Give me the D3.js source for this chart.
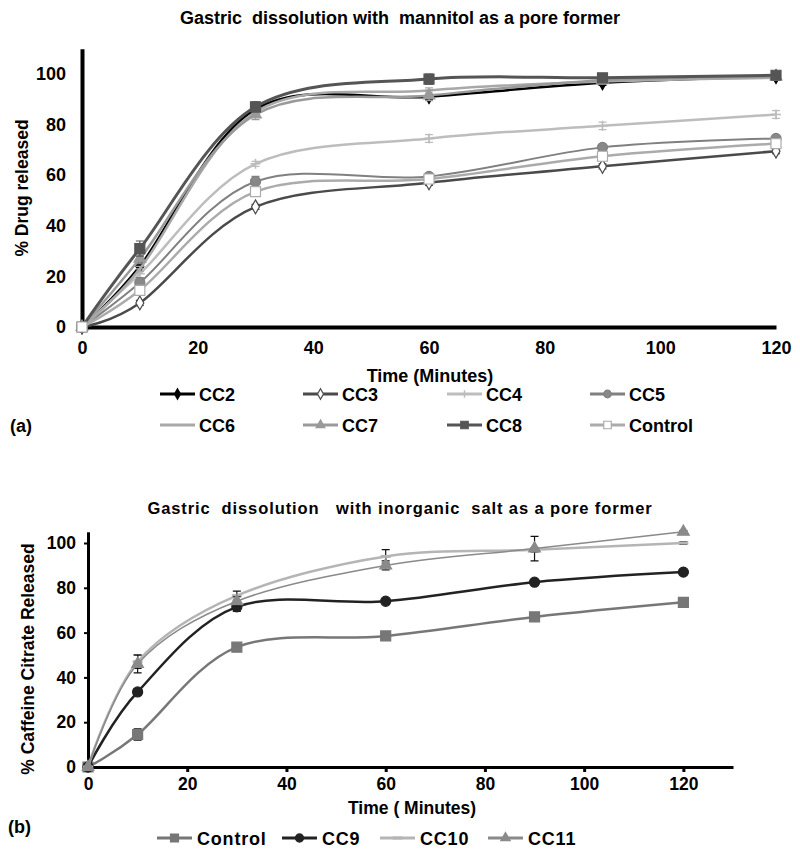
<!DOCTYPE html>
<html><head><meta charset="utf-8">
<script src="https://cdn.jsdelivr.net/npm/d3@7"></script>
<style>
body{margin:0;background:#fff;}
svg{font-family:"Liberation Sans",Arial,sans-serif;font-weight:bold;}
text{white-space:pre;}
</style></head>
<body><svg id="c" width="800" height="853"></svg>
<script>
// ---------- DATA ----------
const timesA = [0, 10, 30, 60, 90, 120];
const seriesNamesA = ["CC2","CC3","CC4","CC5","CC6","CC7","CC8","Control"];
const cc2 = [0, 24, 86, 91, 96.5, 99];
const cc3 = [0, 9.5, 47.5, 57, 63.5, 69.5];
const cc4 = [0, 21, 64.5, 74.5, 79.5, 84];
const cc5 = [0, 17.5, 57.5, 59.5, 71, 74.5];
const cc6 = [0, 23, 85, 93.5, 97, 98.5];
const cc7 = [0, 27, 84, 91.5, 97.5, 99];
const cc8 = [0, 31, 87, 98, 98.5, 99.5];
const controlA = [0, 14.5, 53.5, 58.5, 67.5, 72.5];
const errA = {
  CC2:[0,2,1,1,1,1], CC3:[0,1,1,1,1,1], CC4:[0,2,1,1.5,1.5,1.5], CC5:[0,2,2,1,1,1],
  CC6:[0,1,1,1,1,1], CC7:[0,2,2,2,1,1], CC8:[0,3,2,2,1,1], Control:[0,2,1,1,1.5,1]
};
const ticksAX = [0,20,40,60,80,100,120];
const ticksAY = [0,20,40,60,80,100];

const timesB = [0, 10, 30, 60, 90, 120];
const seriesNamesB = ["Control","CC9","CC10","CC11"];
const controlB = [0, 14.5, 53.5, 58.5, 67, 73.5];
const cc9 = [0, 33.5, 71.5, 74, 82.5, 87];
const cc10 = [0, 47, 76.5, 94, 97, 100];
const cc11 = [0, 46, 74, 90, 97.5, 105];
const errB = {
  Control:[0,2.5,0.5,1,1,0.5], CC9:[0,1.5,2,1,0.5,0.5], CC10:[0,3,2,3,1,0.5], CC11:[0,4,2,2,5.5,0.5]
};
const ticksBX = [0,20,40,60,80,100,120];
const ticksBY = [0,20,40,60,80,100];

// ---------- STYLES ----------
const styleA = {
  CC2:{c:"#000000", w:2.5, sym:"diamond", fill:"#000000"},
  CC3:{c:"#4a4a4a", w:2.5, sym:"diamond", fill:"#ffffff"},
  CC4:{c:"#bdbdbd", w:2.5, sym:"plus", fill:"#bdbdbd"},
  CC5:{c:"#808080", w:2, sym:"circle", fill:"#888888"},
  CC6:{c:"#a8a8a8", w:2.5, sym:null},
  CC7:{c:"#9a9a9a", w:2.5, sym:"triangle", fill:"#9a9a9a"},
  CC8:{c:"#555555", w:3, sym:"square", fill:"#555555"},
  Control:{c:"#ababab", w:2.5, sym:"square", fill:"#ffffff"}
};
const styleB = {
  Control:{c:"#777777", w:2.5, sym:"square", fill:"#777777"},
  CC9:{c:"#222222", w:2.5, sym:"circle", fill:"#222222"},
  CC10:{c:"#b5b5b5", w:2.5, sym:"dash", fill:"#b5b5b5"},
  CC11:{c:"#8a8a8a", w:1.5, sym:"triangle", fill:"#8a8a8a"}
};

const svg = d3.select("#c");

function drawMarker(g, sym, x, y, st, size) {
  size = size || 9;
  if (!sym) return;
  if (sym === "plus") {
    const h = size/2;
    g.append("path").attr("d", `M${x-h},${y}H${x+h}M${x},${y-h}V${y+h}`)
      .attr("stroke", st.c).attr("stroke-width", 1.5).attr("fill","none");
    return;
  }
  if (sym === "dash") {
    g.append("path").attr("d", `M${x-5},${y}H${x+5}`).attr("stroke", st.c).attr("stroke-width", 3);
    return;
  }
  const types = {diamond:d3.symbolDiamond, circle:d3.symbolCircle, square:d3.symbolSquare, triangle:d3.symbolTriangle};
  const area = {diamond:size*size*0.55, circle:size*size*0.8, square:size*size, triangle:size*size*0.6}[sym];
  g.append("path").attr("d", d3.symbol(types[sym], area)())
    .attr("transform", `translate(${x},${y})`)
    .attr("fill", st.fill).attr("stroke", st.c).attr("stroke-width", 1.2);
}

// ---------- PANEL A ----------
const xA = d3.scaleLinear().domain([0,120]).range([82,776]);
const yA = d3.scaleLinear().domain([0,110]).range([327,48.7]);
const gA = svg.append("g");

gA.append("text").attr("x", 400).attr("y", 24).attr("text-anchor","middle")
  .attr("font-size", 18).text("Gastric  dissolution with  mannitol as a pore former");

const axAx = gA.append("g").attr("transform","translate(0,327)")
  .call(d3.axisBottom(xA).tickValues(ticksAX).tickSize(0).tickPadding(14));
axAx.select(".domain").attr("stroke","#000").attr("stroke-width",4);
axAx.selectAll("text").attr("font-size",18).attr("font-family","Liberation Sans").attr("font-weight","bold").attr("fill","#000");
const axAy = gA.append("g").attr("transform","translate(82,0)")
  .call(d3.axisLeft(yA).tickValues(ticksAY).tickSize(0).tickPadding(16));
axAy.select(".domain").attr("stroke","#000").attr("stroke-width",4);
axAy.selectAll("text").attr("font-size",18).attr("font-family","Liberation Sans").attr("font-weight","bold").attr("fill","#000");

gA.append("text").attr("x", 430).attr("y", 382).attr("text-anchor","middle")
  .attr("font-size", 18).text("Time (Minutes)");
gA.append("text").attr("transform","translate(28,188) rotate(-90)").attr("text-anchor","middle")
  .attr("font-size", 17.5).text("% Drug released");

const dataA = {CC2:cc2, CC3:cc3, CC4:cc4, CC5:cc5, CC6:cc6, CC7:cc7, CC8:cc8, Control:controlA};
const lineA = d3.line().x((d,i)=>xA(timesA[i])).y(d=>yA(d)).curve(d3.curveCardinal.tension(0));
seriesNamesA.forEach(n => {
  const st = styleA[n], vals = dataA[n];
  const g = gA.append("g");
  g.append("path").attr("d", lineA(vals)).attr("fill","none").attr("stroke", st.c).attr("stroke-width", st.w);
  vals.forEach((v,i) => {
    const e = errA[n][i];
    if (e > 0) {
      const x = xA(timesA[i]);
      g.append("path").attr("d", `M${x},${yA(v-e)}V${yA(v+e)}M${x-4},${yA(v+e)}H${x+4}M${x-4},${yA(v-e)}H${x+4}`)
        .attr("stroke", st.c).attr("stroke-width", 1.2).attr("fill","none");
    }
  });
  vals.forEach((v,i) => drawMarker(g, st.sym, xA(timesA[i]), yA(v), st, 10));
});

// legend A
const legAcols = [160, 303, 447, 590];
const legArows = [394, 425];
seriesNamesA.forEach((n,k) => {
  const st = styleA[n];
  const x0 = legAcols[k%4], y0 = legArows[Math.floor(k/4)];
  const g = gA.append("g");
  g.append("line").attr("x1", x0).attr("x2", x0+35).attr("y1", y0).attr("y2", y0)
    .attr("stroke", st.c).attr("stroke-width", 3);
  drawMarker(g, st.sym, x0+17.5, y0, st, 7.5);
  g.append("text").attr("x", x0+39).attr("y", y0+6.5).attr("font-size", 18).text(n);
});
gA.append("text").attr("x", 10).attr("y", 432).attr("font-size", 18).text("(a)");

// ---------- PANEL B ----------
const xB = d3.scaleLinear().domain([0,130]).range([88,733]);
const yB = d3.scaleLinear().domain([0,105]).range([767,531.8]);
const gB = svg.append("g");

gB.append("text").attr("x", 400).attr("y", 514).attr("text-anchor","middle")
  .attr("font-size", 16.5).attr("letter-spacing", 0.9).text("Gastric  dissolution   with inorganic  salt as a pore former");

const axBx = gB.append("g").attr("transform","translate(0,767)")
  .call(d3.axisBottom(xB).tickValues(ticksBX).tickSizeInner(5).tickSizeOuter(0).tickPadding(6));
axBx.select(".domain").attr("stroke","#000").attr("stroke-width",3);
axBx.selectAll(".tick line").attr("stroke","#000").attr("stroke-width",3);
axBx.selectAll("text").attr("font-size",17.5).attr("font-family","Liberation Sans").attr("font-weight","bold").attr("fill","#000");
const axBy = gB.append("g").attr("transform","translate(88,0)")
  .call(d3.axisLeft(yB).tickValues(ticksBY).tickSizeInner(4).tickSizeOuter(0).tickPadding(8));
axBy.select(".domain").attr("stroke","#000").attr("stroke-width",3);
axBy.selectAll(".tick line").attr("stroke","#000").attr("stroke-width",2);
axBy.selectAll("text").attr("font-size",17.5).attr("font-family","Liberation Sans").attr("font-weight","bold").attr("fill","#000");

gB.append("text").attr("x", 412).attr("y", 814).attr("text-anchor","middle")
  .attr("font-size", 17.5).text("Time ( Minutes)");
gB.append("text").attr("transform","translate(34,659) rotate(-90)").attr("text-anchor","middle")
  .attr("font-size", 17.5).text("% Caffeine Citrate Released");

const dataB = {Control:controlB, CC9:cc9, CC10:cc10, CC11:cc11};
const lineB = d3.line().x((d,i)=>xB(timesB[i])).y(d=>yB(d)).curve(d3.curveCardinal.tension(0));
seriesNamesB.forEach(n => {
  const st = styleB[n], vals = dataB[n];
  const g = gB.append("g");
  g.append("path").attr("d", lineB(vals)).attr("fill","none").attr("stroke", st.c).attr("stroke-width", st.w);
  vals.forEach((v,i) => {
    const e = errB[n][i];
    if (e > 0) {
      const x = xB(timesB[i]);
      g.append("path").attr("d", `M${x},${yB(v-e)}V${yB(v+e)}M${x-4},${yB(v+e)}H${x+4}M${x-4},${yB(v-e)}H${x+4}`)
        .attr("stroke", "#111").attr("stroke-width", 1.2).attr("fill","none");
    }
  });
  vals.forEach((v,i) => drawMarker(g, st.sym, xB(timesB[i]), yB(v), st, 10));
});

const legBx = [157, 282, 380, 488];
seriesNamesB.forEach((n,k) => {
  const st = styleB[n];
  const x0 = legBx[k], y0 = 838;
  const g = gB.append("g");
  g.append("line").attr("x1", x0).attr("x2", x0+35).attr("y1", y0).attr("y2", y0)
    .attr("stroke", st.c).attr("stroke-width", 3);
  drawMarker(g, st.sym, x0+17.5, y0, st, 8);
  g.append("text").attr("x", x0+40).attr("y", y0+6.5).attr("font-size", 18).attr("letter-spacing", 0.8).text(n);
});
gB.append("text").attr("x", 8).attr("y", 833).attr("font-size", 18).text("(b)");
</script></body></html>
